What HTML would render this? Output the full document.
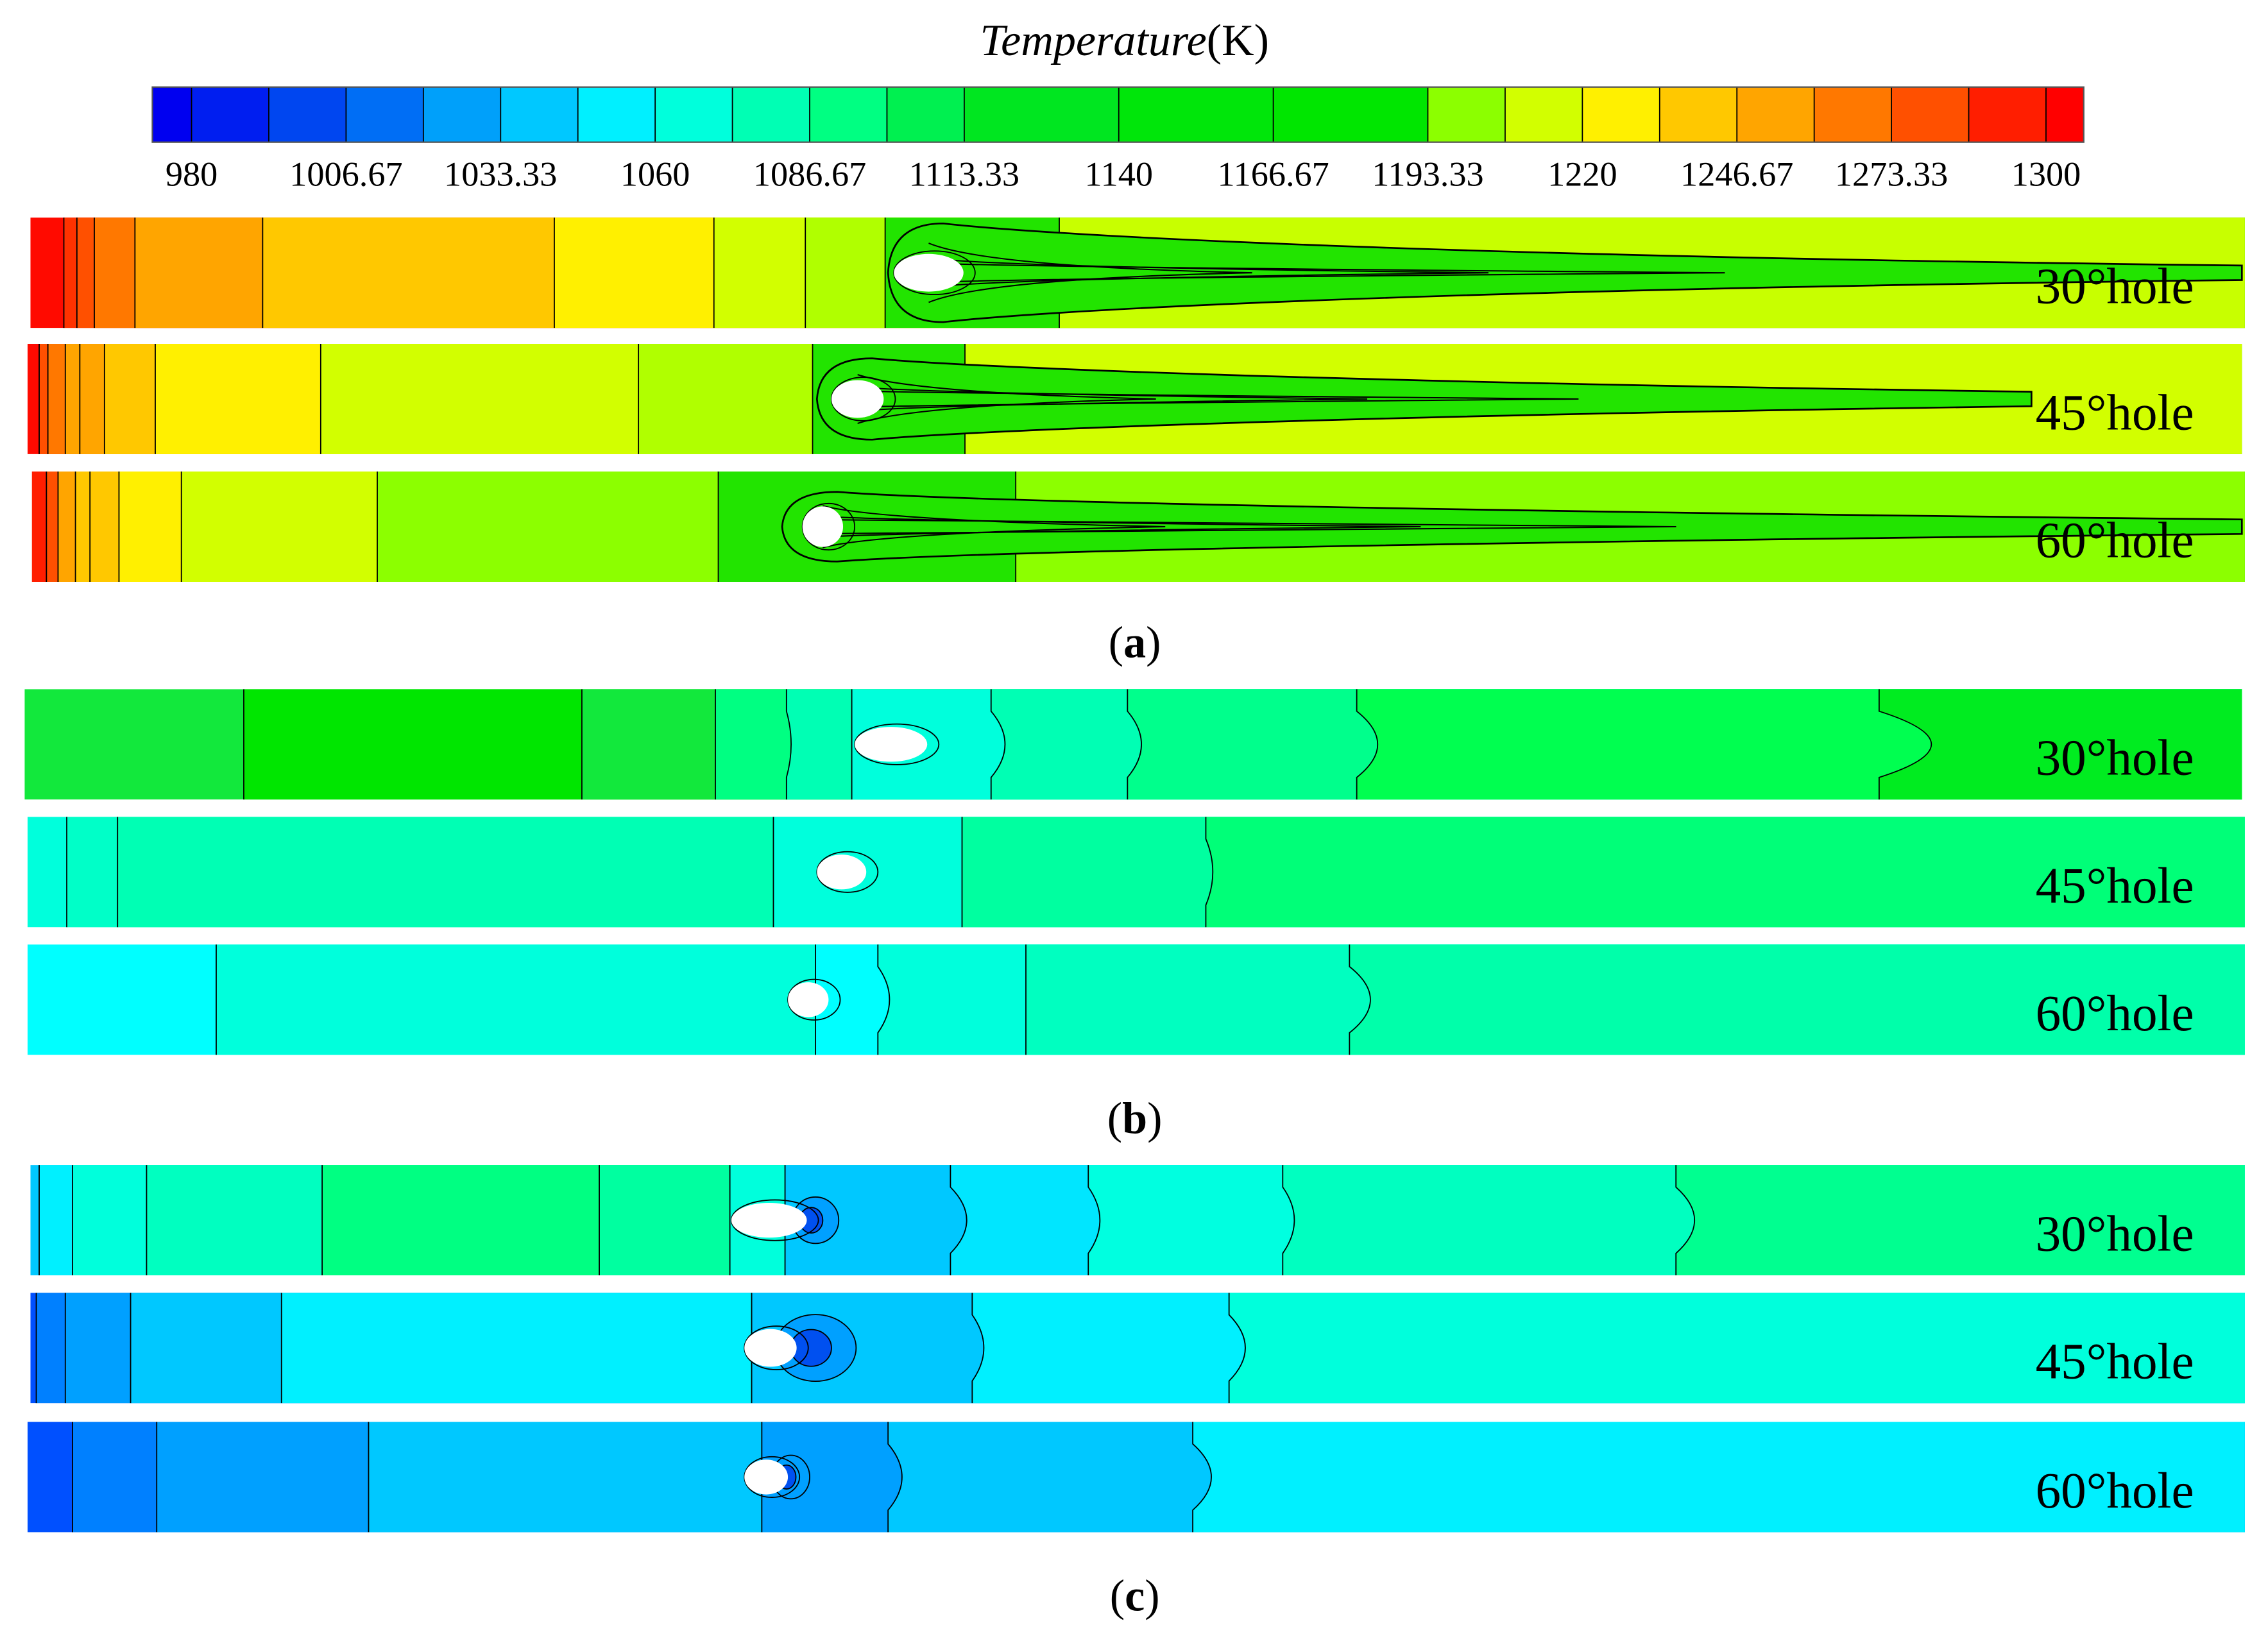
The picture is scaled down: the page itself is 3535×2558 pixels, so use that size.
<!DOCTYPE html>
<html><head><meta charset="utf-8"><style>
html,body{margin:0;padding:0;background:#fff;}
svg{display:block;}
text{font-family:"Liberation Serif",serif;fill:#000;}
</style></head><body>
<svg id="fig" width="3535" height="2558" viewBox="0 0 1563 1131" preserveAspectRatio="none" xmlns="http://www.w3.org/2000/svg">
<text x="775" y="38" font-size="31" text-anchor="middle"><tspan font-style="italic">Temperature</tspan>(K)</text>
<g id="cbar"></g>
<g id="panels"></g>
<text x="782" y="453" font-size="31" text-anchor="middle">(<tspan font-weight="bold">a</tspan>)</text>
<text x="782" y="781" font-size="31" text-anchor="middle">(<tspan font-weight="bold">b</tspan>)</text>
<text x="782" y="1110" font-size="31" text-anchor="middle">(<tspan font-weight="bold">c</tspan>)</text>
</svg>
<script>
const tickLabels=["980","1006.67","1033.33","1060","1086.67","1113.33","1140","1166.67","1193.33","1220","1246.67","1273.33","1300"];
const tickValues=[980,1006.67,1033.33,1060,1086.67,1113.33,1140,1166.67,1193.33,1220,1246.67,1273.33,1300];
const bandColors=["#0000f0","#001ef0","#0046f0","#006ef5","#00a0fa","#00c8ff","#00f0ff","#00ffdc","#00ffb4","#00ff82","#00f050","#00e620","#00e620","#00e60a","#00e60a","#00e600","#00e600","#8cff00","#d2ff00","#fff000","#ffc800","#ffa500","#ff7800","#ff5000","#ff1e00","#ff0000"];
const NS="http://www.w3.org/2000/svg";
function mk(tag,attrs,parent){const e=document.createElementNS(NS,tag);for(const k in attrs)e.setAttribute(k,attrs[k]);parent.appendChild(e);return e;}
const cbX0=105,cbX1=1436,cbY=60,cbH=38;
function tx(v){return 132+(v-980)/(1300-980)*(1410-132);}
const step=(tx(1300)-tx(980))/24;
const cb=document.getElementById('cbar');
bandColors.forEach((c,i)=>{
  let a=tx(980)+(i-1)*step,b=a+step;
  a=Math.max(a,cbX0);b=Math.min(b,cbX1);
  const r=mk('rect',{x:a,y:cbY,width:b-a+0.3,height:cbH,fill:c},cb);
  
  
  if(i>0&&c!==bandColors[i-1]){const l=mk('line',{x1:a,x2:a,y1:cbY,y2:cbY+cbH,stroke:'#000','stroke-width':0.8},cb);
    }
});
mk('rect',{x:cbX0,y:cbY,width:cbX1-cbX0,height:cbH,fill:'none',stroke:'#555','stroke-width':1},cb);
tickValues.forEach((v,i)=>{
  const t=mk('text',{x:tx(v),y:128,'font-size':24,'text-anchor':'middle'},cb);
  t.textContent=tickLabels[i];
  
  
});
const a1B=[21,44,53,65,93,181,382,492,555,610,730],a1C=["#ff0a00","#ff3200","#ff5000","#ff7800","#ffa500","#ffc800","#fff000","#d2ff00","#b0ff00","#22e400","#c8ff00"],a1W=[0,0,0,0,0,0,0,0,0,0,0];
const a2B=[19,27,33,45,55,72,107,221,440,560,665],a2C=["#ff0a00","#ff5000","#ff7800","#ffa500","#ffa500","#ffc800","#fff000","#d2ff00","#b0ff00","#22e400","#d2ff00"],a2W=[0,0,0,0,0,0,0,0,0,0,0];
const a3B=[22,32,40,52,62,82,125,260,495,700],a3C=["#ff1e00","#ff5000","#ffa500","#ffc800","#ffc800","#fff000","#d2ff00","#8cff00","#22e400","#8cff00"],a3W=[0,0,0,0,0,0,0,0,0,0];
const b1B=[17,168,401,493,542,587,683,777,935,1295],b1C=["#12e83c","#00e600","#12e83c","#00ff82","#00ffb4","#00ffdc","#00ffb4","#00ff8c","#00ff50","#00ec20"],b1W=[0,0,0,0,4,0,12,12,18,45];
const b2B=[19,46,81,533,663,831],b2C=["#00ffdc","#00ffc8","#00ffb4","#00ffdc","#00ffa0","#00ff78"],b2W=[0,0,0,0,0,6];
const b3B=[19,149,562,605,707,930],b3C=["#00ffff","#00ffdc","#00ffff","#00ffdc","#00ffc0","#00ffaa"],b3W=[0,0,0,10,0,18];
const c1B=[21,27,50,101,222,413,503,541,655,750,884,1155],c1C=["#00c8ff","#00f0ff","#00ffdc","#00ffc0","#00ff82","#00ffa0","#00ffdc","#00c8ff","#00e6ff","#00ffe0","#00ffc0","#00ff90"],c1W=[0,0,0,0,0,0,0,0,14,10,10,16];
const c2B=[21,25,45,90,194,518,670,847],c2C=["#0050ff","#0080ff","#00a0ff","#00c8ff","#00f0ff","#00c8ff","#00f0ff","#00ffdc"],c2W=[0,0,0,0,0,0,10,14];
const c3B=[19,50,108,254,525,612,822],c3C=["#0050ff","#0080ff","#00a0ff","#00c8ff","#00a0ff","#00c8ff","#00f0ff"],c3W=[0,0,0,0,0,12,16];
const panelY=[150,237,325,475,563,651,803,891,980];
const panelX1=[1547,1545,1547,1545,1547,1547,1547,1547,1547];
const panelB=[a1B,a2B,a3B,b1B,b2B,b3B,c1B,c2B,c3B];
const panelC=[a1C,a2C,a3C,b1C,b2C,b3C,c1C,c2C,c3C];
const panelW=[a1W,a2W,a3W,b1W,b2W,b3W,c1W,c2W,c3W];
const holeX=[640,591,567,614,580,557,530,531,528];
const holeRx=[24,18,14,25,17,14,26,18,15];
const holeRy=[13,13,14,12,12,12,12,13,12];
const labels=["30°hole","45°hole","60°hole","30°hole","45°hole","60°hole","30°hole","45°hole","60°hole"];
const streakEnd=[1545,1400,1545,0,0,0,0,0,0];
const streakHalf=[34,28,24,0,0,0,0,0,0];
const blobX=[0,0,0,0,0,0,562,562,545];
const blobRx=[0,0,0,0,0,0,16,28,13];
const blobRy=[0,0,0,0,0,0,16,23,15];
const PH=76;
const pg=document.getElementById('panels');
panelY.forEach((y,p)=>{
  const g=mk('g',{},pg);
  
  
  const B=panelB[p],C=panelC[p],W=panelW[p],x1=panelX1[p];
  B.forEach((b,i)=>{
    const w=W[i];
    const edge=`M${b},${y} L${b},${y+PH*0.2} Q${b+w*1.6},${y+PH/2} ${b},${y+PH*0.8} L${b},${y+PH}`;
    const r=mk('path',{d:edge+` L${x1},${y+PH} L${x1},${y} Z`,fill:C[i]},g);
    
    
    if(i>0){const l=mk('path',{d:edge,fill:'none',stroke:'#000','stroke-width':0.8},g);
      }
  });
  const cy=y+PH/2,hx=holeX[p];
  if(streakEnd[p]>0){
    const e=streakEnd[p],h=streakHalf[p];
    const s=mk('path',{d:`M${hx-28},${cy} Q${hx-26},${cy-h} ${hx+10},${cy-h} C${hx+70},${cy-h*0.8} ${hx+300},${cy-12} ${e},${cy-5} L${e},${cy+5} C${hx+300},${cy+12} ${hx+70},${cy+h*0.8} ${hx+10},${cy+h} Q${hx-26},${cy+h} ${hx-28},${cy} Z`,fill:'#22e400',stroke:'#000','stroke-width':1.2},g);
    
    for(let k=1;k<=3;k++){
      const tip=hx+60+k*(e-hx)*0.18;
      const l=mk('path',{d:`M${hx},${cy-h*0.6/k} Q${hx+40},${cy-4} ${tip},${cy} Q${hx+40},${cy+4} ${hx},${cy+h*0.6/k}`,fill:'none',stroke:'#000','stroke-width':0.9},g);
      
    }
  }
  if(blobRx[p]>0){
    const b1=mk('ellipse',{cx:blobX[p],cy:cy,rx:blobRx[p],ry:blobRy[p],fill:'#00a0ff',stroke:'#000','stroke-width':0.8},g);
    
    const b2=mk('ellipse',{cx:blobX[p]-3,cy:cy,rx:blobRx[p]*0.5,ry:blobRy[p]*0.55,fill:'#0050f0',stroke:'#000','stroke-width':0.8},g);
    
  }
  const ring=mk('ellipse',{cx:hx+4,cy:cy,rx:holeRx[p]+4,ry:holeRy[p]+2,fill:'none',stroke:'#000','stroke-width':0.8},g);
  
  const hole=mk('ellipse',{cx:hx,cy:cy,rx:holeRx[p],ry:holeRy[p],fill:'#fff'},g);
  
  const t=mk('text',{x:1512,y:cy+21,'font-size':35,'text-anchor':'end'},g);
  t.textContent=labels[p];
  
  
});
</script>
</body></html>
